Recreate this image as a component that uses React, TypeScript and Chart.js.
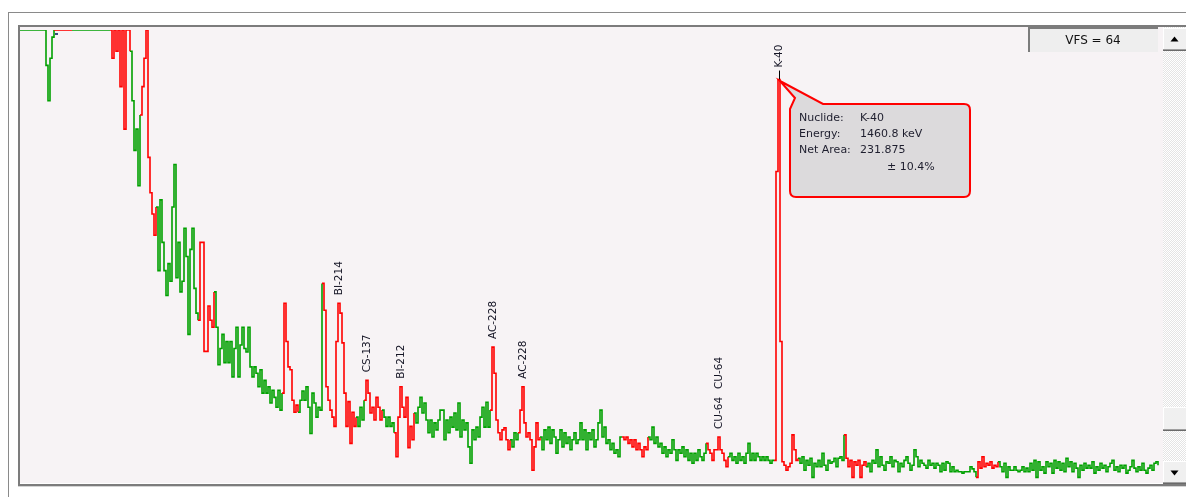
import React, { useEffect, useRef } from "react";
import { Chart, registerables } from "chart.js";

Chart.register(...registerables);

// Counts per display channel (VFS = 64), channels 0..112
const lowEnergyCounts = [
  64, 64, 64, 64, 64, 64, 64, 64, 64, 64, 64, 64, 64,
  59, 54, 60, 63,
  64, 64, 64, 64, 64, 64, 64, 64, 64, 64, 64, 64, 64, 64,
  64, 64, 64, 64, 64, 64, 64, 64, 64, 64, 64, 64, 64, 64,
  64, 60, 64, 61, 64, 56, 64, 50, 64, 64, 61, 54, 47, 50, 42,
  52, 56, 60, 64, 46, 41, 38, 35,
  39, 30, 40, 34, 30, 26.5, 31, 28.5, 39, 45, 29, 34, 27, 28.5, 36, 32, 21, 33, 36, 27.5, 24,
  23, 34, 34, 18.6, 18.6, 25, 23, 22, 27,
  22, 16.7, 19, 21, 17, 20, 17, 20, 15, 19, 22, 15, 19.5, 22, 19,
];

// channels 113..376
const midEnergyCounts = [
  18.5, 22, 16.4, 15, 16.4, 15.5, 13.6, 16, 12.7, 14.5, 12.7, 13.6, 11.3, 13.1, 12.1, 10.7, 13.1, 10.3,
  12.7, 25.4, 20, 16.4, 16, 11.7, 10, 11,
  10, 11.7, 13, 11.7, 13.6, 10.7, 7, 12.7, 11.3, 9.3, 10.7, 10.3,
  28.2, 24.4, 13.6, 11.7, 10.3, 9.3, 8, 20, 25.4, 24, 19.8, 12.7, 8, 11.5, 5.6, 10, 8,
  9.3, 8, 10.7, 8.9,
  11.7, 14.5, 12.7, 9.9, 10.7, 8.9, 12.1, 10.7, 8.9,
  10.3, 9.3, 8, 9.3, 8, 8.5,
  7.1, 3.7, 9.3, 13.6, 10.7, 9.3, 12.1, 5, 8, 6.1,
  9.9, 8.5, 10.7, 12.1, 9.9, 11.3, 8.9, 7.1, 8.9, 6.5, 8.5, 7.5, 8.9, 10.3, 10.3, 6.1, 8.9, 7.1, 9.3,
  7.9, 9.9, 7.5, 11.3, 6.5, 8.9, 7.5, 8.5, 5.1, 2.8, 7.5, 6.1, 7.9, 6.5, 9.3, 10.7, 7.9, 11.4, 7.9,
  10.3, 19.2, 15.5, 8.9, 7.1, 6.1, 7.5, 7.8, 6.1, 4.7,
  6.1, 5.1, 7.1, 6.1,
  7.1, 10.3, 13.6, 8.5, 6.5, 7.1, 6.1, 1.8, 5.1, 8.5, 6.1,
  6.5, 4.7, 7.5, 6.1, 7.9, 5.6, 7.5, 6.5, 4.2, 6.1, 7.5, 5.1, 7.1, 5.6, 6.5, 4.7, 6.1, 7.1, 5.6, 6.1,
  8.5, 6.1, 7.5, 4.7, 7.1, 6.1, 7.5, 5.1, 6.1, 8.5, 10.3, 6.5, 7.9, 5.6, 6.1, 4.7, 5.6, 4.2, 4.7, 3.7, 6.5,
  6.5, 6.1, 6.5, 5.6, 6.1, 5.1, 6.1, 4.7, 5.6, 4.7, 3.7, 5.1, 4.7,
  6.5, 6.1, 7.9, 5.6, 6.5, 5.1, 5.6, 4.2, 5.1, 3.7, 4.7, 4.2, 6.1, 4.7, 3.2, 4.7, 4.2, 5.1, 3.7, 4.7,
  3.2, 4.2, 2.8, 4.2, 3.2, 4.7, 3.7, 3.2, 4.2,
  5.6, 4.7, 4.2, 3.2, 4.7, 4.7, 6.5, 4.7, 4.2, 3.2, 2.3,
  3.7, 4.2, 3.2, 3.7, 2.8, 4.2, 3.2, 3.7, 2.8, 4.2, 5.6, 3.2, 4.2, 3.2, 4.2, 3.7, 3.2, 3.7, 3.2, 3.7,
  3.2, 2.8, 3.2,
];

// channels 377..569
const highEnergyCounts = [
  3.2, 44, 57, 20, 3, 2.5, 1.8, 2.3, 2.8, 6.8, 4.7, 3.2,
  3.5, 2.8, 3.7, 1.8, 3.2, 2.5, 3.5, 0.8, 2.8, 2.3, 3.2, 2.3, 4.2, 2.5, 1.8, 3.2, 2.8, 3, 3.5, 2.3, 3.5, 3.7, 3.2,
  6.8, 3.5, 2.3, 3.2, 0.8, 3, 2.5, 3.2, 0.8, 2.5, 3,
  2.3, 2.8, 1.6, 3.2, 2.8, 4.7, 2.3, 3.7, 2.5, 1.8, 3, 2.8, 3.7, 2.3, 3.2, 3, 1.6, 2.8, 2.3, 3.2,
  3.7, 2.8, 1.8, 2.5, 4.7, 3.7, 2.3, 3.2, 2.8, 2.5, 2.1, 3.2, 2.5, 2.8, 2.1, 2.8, 2.5, 1.6, 2.8, 1.8,
  3, 2.8, 1.6, 2.3, 1.6, 1.8, 1.6, 1.6, 1.4, 1.6, 1.6, 1.6, 2.3, 2, 1.6,
  0.8, 3, 2.1, 3.7, 2.3, 2.8, 2.5, 3, 2.1, 2.5, 2.3,
  3, 2.3, 1.6, 2.8, 0.8, 2.3, 1.8, 1.8, 2.3, 1.8, 1.6, 1.8, 2.3, 1.6, 2.1, 1.6, 2.8, 1.8, 3.2, 0.8,
  3, 1.8, 2.3, 1.4, 3, 2.3, 2.8, 1.4, 3.2, 2.1, 3, 1.8, 2.8, 1.6, 3.5, 2.3, 3, 1.6, 2.8, 2.1,
  0.8, 2.5, 1.8, 2.8, 2.1, 2.5, 2.1, 3, 1.4, 2.3, 1.8, 2.8, 2.1, 2.5, 1.6, 2.3, 2.8, 3.2, 1.8, 2.3,
  1.6, 2.5, 2.1, 2.5, 1.4, 1.8, 2.3, 3.2, 2.1, 1.6, 2.3, 1.8, 2.8, 1.8, 1.4, 2.1, 2.5, 1.8, 2.8, 3, 2.5,
];

// Regions of interest (channel ranges, drawn red)
const roiStart = [17, 45, 60, 89, 131, 151, 172, 187, 235, 249, 301, 343, 377, 412, 478];
const roiEnd = [25, 54, 67, 96, 138, 167, 180, 196, 244, 259, 313, 353, 388, 422, 488];

// Peak identification labels
const peakNames = ["BI-214", "CS-137", "BI-212", "AC-228", "AC-228", "CU-64", "CU-64", "K-40"];
const peakChannels = [159, 173, 190, 236, 251, 349, 349, 379];
const peakStack = [0, 0, 0, 0, 0, 0, 1, 0];

// Selected peak info box
const selectedPeakIndex = 7;
const infoLabels = ["Nuclide:", "Energy:", "Net Area:"];
const infoValues = ["K-40", "1460.8 keV", "231.875"];
const infoUncertainty = "± 10.4%";
const vfsLabel = "VFS = 64";
const fullScale = 64;
const channelCount = 570;

const GREEN = "#00a000";
const RED = "#ff0000";

function inRoi(ch: number) {
  for (let k = 0; k < roiStart.length; k++) {
    if (ch >= roiStart[k] && ch <= roiEnd[k]) return true;
  }
  return false;
}

export default function App() {
  const ref = useRef<HTMLCanvasElement | null>(null);

  useEffect(() => {
    const canvas = ref.current;
    if (!canvas) return;
    const counts = [...lowEnergyCounts, ...midEnergyCounts, ...highEnergyCounts];
    const points = counts.map((v, i) => ({ x: i, y: v }));

    const pat = document.createElement("canvas");
    pat.width = 2;
    pat.height = 2;
    const pctx = pat.getContext("2d")!;
    pctx.fillStyle = "#ffffff";
    pctx.fillRect(0, 0, 2, 2);
    pctx.fillStyle = "#e4e4e4";
    pctx.fillRect(1, 0, 1, 1);
    pctx.fillRect(0, 1, 1, 1);

    const framePlugin = {
      id: "frame",
      beforeDraw(chart: any) {
        const ctx = chart.ctx as CanvasRenderingContext2D;
        const a = chart.chartArea;
        ctx.save();
        ctx.fillStyle = "#ffffff";
        ctx.fillRect(0, 0, chart.width, chart.height);
        // outer frame
        ctx.fillStyle = "#8a8a8a";
        ctx.fillRect(8, 12, 1178, 1);
        ctx.fillRect(8, 12, 1, 485);
        // plot background
        ctx.fillStyle = "#f7f3f5";
        ctx.fillRect(a.left, a.top - 3, a.right - a.left + 3, a.bottom - a.top + 3);
        // inner sunken frame
        ctx.fillStyle = "#7c7c7c";
        ctx.fillRect(18, 25, 1168, 2);
        ctx.fillRect(18, 25, 2, 461);
        ctx.fillRect(18, 484, 1168, 2);
        ctx.fillStyle = "#d4d4d4";
        ctx.fillRect(18, 486, 1168, 1);
        // scrollbar track
        ctx.fillStyle = ctx.createPattern(pat, "repeat")!;
        ctx.fillRect(1163, 27, 23, 457);
        const button = (y: number, h: number, up: number) => {
          ctx.fillStyle = "#f0f0f0";
          ctx.fillRect(1163, y, 23, h);
          ctx.fillStyle = "#ffffff";
          ctx.fillRect(1163, y, 23, 1);
          ctx.fillRect(1163, y, 1, h);
          ctx.fillStyle = "#a0a0a0";
          ctx.fillRect(1163, y + h - 2, 23, 1);
          ctx.fillStyle = "#6a6a6a";
          ctx.fillRect(1163, y + h - 1, 23, 1);
          if (up !== 0) {
            const cx = 1174.5;
            const cy = y + h / 2;
            ctx.fillStyle = "#000000";
            ctx.beginPath();
            if (up > 0) {
              ctx.moveTo(cx - 4, cy + 2);
              ctx.lineTo(cx + 4, cy + 2);
              ctx.lineTo(cx, cy - 3);
            } else {
              ctx.moveTo(cx - 4, cy - 2);
              ctx.lineTo(cx + 4, cy - 2);
              ctx.lineTo(cx, cy + 3);
            }
            ctx.closePath();
            ctx.fill();
          }
        };
        button(28, 23, 1);
        button(407, 24, 0);
        button(461, 23, -1);
        ctx.restore();
      },
      afterDatasetsDraw(chart: any) {
        const ctx = chart.ctx as CanvasRenderingContext2D;
        const xs = chart.scales.x;
        const ys = chart.scales.y;
        const counts2 = chart.data.datasets[0].data as { x: number; y: number }[];
        ctx.save();
        // small marker near the start
        ctx.fillStyle = "#3a4a7a";
        ctx.fillRect(55, 33, 3, 2);

        // peak labels
        ctx.font = "10.5px 'DejaVu Sans'";
        ctx.fillStyle = "#141424";
        ctx.textAlign = "left";
        ctx.textBaseline = "middle";
        for (let k = 0; k < peakNames.length; k++) {
          const ch = peakChannels[k];
          const cx = Math.round(xs.getPixelForValue(ch + 0.5));
          const py = ys.getPixelForValue(counts2[ch].y);
          let bottom = py - 8 - peakStack[k] * 40;
          if (k === selectedPeakIndex) {
            ctx.fillStyle = "#000000";
            ctx.fillRect(cx, py - 9, 1, 9);
            ctx.fillStyle = "#141424";
            bottom = py - 12;
          }
          ctx.save();
          ctx.translate(cx + 0.5, bottom);
          ctx.rotate(-Math.PI / 2);
          ctx.fillText(peakNames[k], 0, 0);
          ctx.restore();
        }

        // info callout for the selected peak
        const sch = peakChannels[selectedPeakIndex];
        const tipX = Math.round(xs.getPixelForValue(sch + 0.5)) + 1;
        const tipY = Math.round(ys.getPixelForValue(counts2[sch].y)) + 1;
        const L = tipX + 10;
        const T = tipY + 23;
        const W = 180;
        const H = 93;
        const r = 6;
        ctx.beginPath();
        ctx.moveTo(tipX, tipY);
        ctx.lineTo(L + 33, T);
        ctx.lineTo(L + W - r, T);
        ctx.quadraticCurveTo(L + W, T, L + W, T + r);
        ctx.lineTo(L + W, T + H - r);
        ctx.quadraticCurveTo(L + W, T + H, L + W - r, T + H);
        ctx.lineTo(L + r, T + H);
        ctx.quadraticCurveTo(L, T + H, L, T + H - r);
        ctx.lineTo(L, T + 5);
        ctx.lineTo(L + 5, T - 6);
        ctx.closePath();
        ctx.fillStyle = "#dcdadc";
        ctx.fill();
        ctx.strokeStyle = "#ff0000";
        ctx.lineWidth = 2;
        ctx.stroke();

        ctx.font = "11px 'DejaVu Sans'";
        ctx.fillStyle = "#1e1e2e";
        ctx.textBaseline = "alphabetic";
        ctx.textAlign = "left";
        for (let k = 0; k < infoLabels.length; k++) {
          const by = T + 17 + k * 16;
          ctx.fillText(infoLabels[k], L + 9, by);
          ctx.fillText(infoValues[k], L + 70, by);
        }
        ctx.fillText(infoUncertainty, L + 97, T + 66);

        // VFS box
        ctx.fillStyle = "#eeeeee";
        ctx.fillRect(1028, 27, 130, 25);
        ctx.fillStyle = "#7c7c7c";
        ctx.fillRect(1028, 27, 130, 2);
        ctx.fillRect(1028, 27, 2, 25);
        ctx.fillStyle = "#111111";
        ctx.font = "12px 'DejaVu Sans'";
        ctx.textAlign = "center";
        ctx.textBaseline = "middle";
        ctx.fillText(vfsLabel, 1093, 41);
        ctx.restore();
      },
    };

    const chart = new Chart(canvas, {
      type: "line",
      data: {
        datasets: [
          {
            data: points,
            stepped: true,
            borderWidth: 1.6,
            borderCapStyle: "butt",
            borderJoinStyle: "miter",
            pointRadius: 0,
            borderColor: GREEN,
            fill: false,
            segment: {
              borderColor: (c: any) => (inRoi(c.p0DataIndex) ? RED : GREEN),
            },
          } as any,
        ],
      },
      options: {
        responsive: false,
        animation: false,
        devicePixelRatio: 1,
        layout: { padding: { left: 20, top: 30, right: 33, bottom: 14 } },
        scales: {
          x: { type: "linear", min: 0, max: channelCount, display: false },
          y: { type: "linear", min: 0, max: fullScale, display: false },
        },
        plugins: { legend: { display: false }, tooltip: { enabled: false } },
      },
      plugins: [framePlugin],
    });
    return () => chart.destroy();
  }, []);

  return (
    <div style={{ position: "fixed", left: 0, top: 0, width: 1193, height: 497, background: "#fff" }}>
      <canvas ref={ref} width={1193} height={497} style={{ display: "block", width: 1193, height: 497 }} />
    </div>
  );
}
